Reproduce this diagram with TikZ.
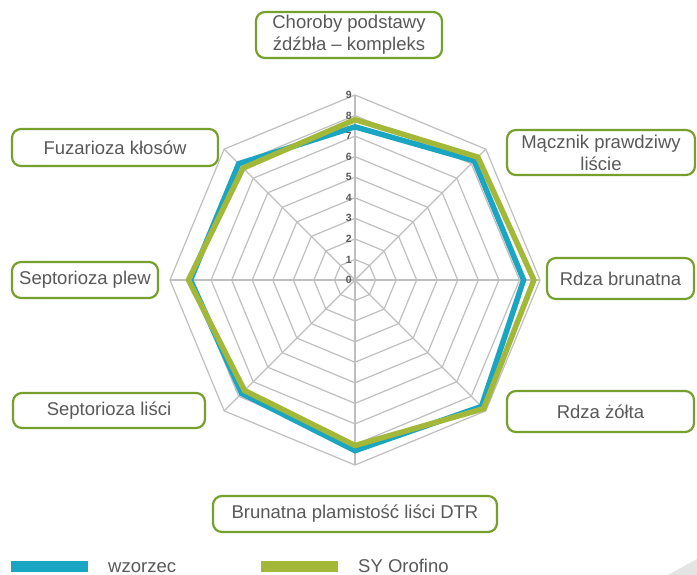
\documentclass[tikz,border=0pt]{standalone}
\usepackage{fontspec}
\setmainfont{Liberation Sans}
\definecolor{gridgray}{HTML}{BFBFBF}
\definecolor{txtgray}{HTML}{595959}
\definecolor{boxgreen}{HTML}{76A02C}
\definecolor{serblue}{HTML}{1AA5C2}
\definecolor{sergreen}{HTML}{A3B839}
\definecolor{decogray}{HTML}{E4E4E4}
\begin{document}
\begin{tikzpicture}[x=1pt,y=-1pt,
  gridline/.style={draw=gridgray,line width=1.2pt},
  catbox/.style={draw=boxgreen,line width=2.2pt,rounded corners=9pt,fill=white,
    text=txtgray,align=center,inner sep=0pt,
    font=\fontsize{18.5}{22}\selectfont},
  ticklab/.style={text=txtgray,font=\fontsize{10.5}{11}\selectfont\bfseries,
    inner sep=0pt,anchor=east},
  serline/.style={line width=5.5pt,line join=miter,miter limit=10},
  legtext/.style={text=txtgray,font=\fontsize{18.5}{22}\selectfont,inner sep=0pt,
    text depth=0pt,anchor=base west}
]
\useasboundingbox (0,0) rectangle (697,575);
\fill[white] (0,0) rectangle (697,575);

% chart
\begin{scope}[shift={(355,280)},yscale=-1]
  \def\u{20.56}
  \foreach \r in {1,...,9}
    \draw[gridline] (0:\r*\u) \foreach \a in {45,90,...,315}{ -- (\a:\r*\u)} -- cycle;
  \foreach \a in {0,45,...,315}
    \draw[gridline] (0,0) -- (\a:9*\u);
  \foreach \k in {0,...,9}
    \node[ticklab] (t\k) at (-3,\k*\u) {\k};
  % wzorzec
  \draw[serline,serblue] (90:7.45*\u) -- (45:8.2*\u) -- (0:8.2*\u) -- (-45:8.7*\u)
    -- (-90:8.3*\u) -- (-135:7.8*\u) -- (180:8.0*\u) -- (135:8.0*\u) -- cycle;
  % SY Orofino
  \draw[serline,sergreen] (90:7.8*\u) -- (45:8.45*\u) -- (0:8.7*\u) -- (-45:8.85*\u)
    -- (-90:8.05*\u) -- (-135:7.6*\u) -- (180:8.1*\u) -- (135:7.7*\u) -- cycle;
\end{scope}

% category boxes
\node[catbox,minimum width=186pt,minimum height=46pt] (c1) at (349,35) {Choroby podstawy\\źdźbła – kompleks};
\node[catbox,minimum width=188pt,minimum height=45pt] (c2) at (601,152.5) {Mącznik prawdziwy\\liście};
\node[catbox,minimum width=147pt,minimum height=41pt] (c3) at (620.5,278.5) {Rdza brunatna};
\node[catbox,minimum width=187pt,minimum height=41pt] (c4) at (600.5,411.5) {Rdza żółta};
\node[catbox,minimum width=284pt,minimum height=36pt] (c5) at (355,514) {Brunatna plamistość liści DTR};
\node[catbox,minimum width=192pt,minimum height=35pt] (c6) at (109,410.5) {Septorioza liści};
\node[catbox,minimum width=146pt,minimum height=36pt] (c7) at (85,280) {Septorioza plew};
\node[catbox,minimum width=206pt,minimum height=37pt] (c8) at (115,147.5) {Fuzarioza kłosów};

% legend
\node[fill=serblue,minimum width=77pt,minimum height=11pt,inner sep=0pt] (lb) at (49,566.5) {};
\node[legtext] (lbt) at (108,572.5) {wzorzec};
\node[fill=sergreen,minimum width=77pt,minimum height=11pt,inner sep=0pt] (lg) at (299,566.5) {};
\node[legtext] (lgt) at (358,572.5) {SY Orofino};

% corner decoration
\fill[decogray] (668,575) -- (697,559) -- (697,575) -- cycle;
\end{tikzpicture}
\end{document}
